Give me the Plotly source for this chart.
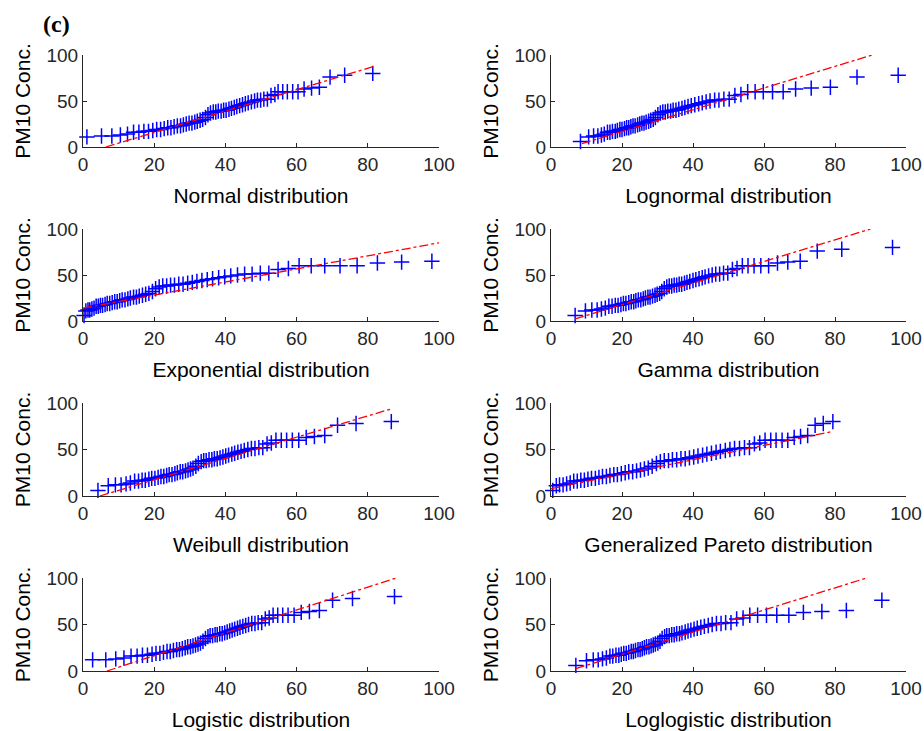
import plotly.graph_objects as go

# Sorted PM10 concentrations (sample quantiles, shared by every panel)
pm10 = [6, 11, 12, 12, 13, 14, 16, 16, 17, 17,
        18, 19, 19, 20, 21, 21, 22, 23, 23, 24,
        25, 26, 26, 27, 28, 29, 30, 32, 35, 37,
        38, 38, 39, 39, 40, 40, 41, 42, 43, 44,
        45, 46, 47, 48, 49, 50, 51, 51, 52, 52,
        56, 57, 60, 60, 60, 60, 60, 63, 64, 65,
        76, 78, 80]

# Theoretical quantiles of each fitted distribution (None = outside the 0-100 axis)
normal_q = [None, 1.1, 5.2, 8.1, 10.5, 12.5, 14.2, 15.7, 17.1, 18.4,
            19.6, 20.7, 21.8, 22.8, 23.8, 24.7, 25.6, 26.5, 27.4, 28.2,
            29.0, 29.8, 30.6, 31.4, 32.1, 32.9, 33.6, 34.4, 35.1, 35.8,
            36.6, 37.3, 38.0, 38.8, 39.5, 40.2, 41.0, 41.7, 42.5, 43.2,
            44.0, 44.8, 45.6, 46.4, 47.3, 48.2, 49.0, 49.9, 50.8, 51.8,
            52.8, 53.9, 54.8, 56.1, 57.4, 58.9, 60.4, 62.1, 64.2, 66.4,
            69.4, 73.5, 81.4]
lognormal_q = [8.3, 10.6, 12.0, 13.2, 14.2, 15.0, 15.9, 16.6, 17.3, 18.1,
               18.7, 19.4, 20.0, 20.7, 21.3, 21.9, 22.5, 23.1, 23.7, 24.4,
               25.0, 25.6, 26.2, 26.8, 27.5, 28.1, 28.8, 29.4, 30.1, 30.8,
               31.5, 32.2, 32.9, 33.7, 34.4, 35.2, 36.0, 36.9, 37.7, 38.6,
               39.5, 40.5, 41.6, 42.6, 43.7, 44.8, 46.1, 47.3, 48.7, 50.2,
               51.8, 53.5, 55.4, 57.5, 59.8, 62.4, 65.4, 68.9, 73.3, 78.7,
               86.2, 97.8, None]
exponential_q = [0.3, 0.8, 1.4, 1.9, 2.5, 3.1, 3.7, 4.3, 4.9, 5.5,
                 6.2, 6.8, 7.5, 8.2, 8.9, 9.6, 10.3, 11.0, 11.8, 12.6,
                 13.3, 14.2, 15.0, 15.8, 16.7, 17.6, 18.5, 19.5, 20.4, 21.4,
                 22.4, 23.5, 24.6, 25.7, 26.9, 28.1, 29.4, 30.7, 32.0, 33.4,
                 34.9, 36.4, 38.1, 39.8, 41.5, 43.4, 45.4, 47.5, 49.8, 52.2,
                 54.8, 57.7, 60.7, 64.1, 67.9, 72.2, 77.0, 82.7, 89.5, 98.0,
                 None, None, None]
gamma_q = [6.8, 9.7, 11.5, 13.0, 14.2, 15.3, 16.3, 17.2, 18.1, 18.9,
           19.7, 20.4, 21.1, 21.9, 22.6, 23.3, 23.9, 24.6, 25.3, 26.0,
           26.6, 27.3, 27.9, 28.6, 29.3, 29.9, 30.6, 31.2, 31.9, 32.6,
           33.3, 34.0, 34.7, 35.4, 36.1, 36.8, 37.6, 38.3, 39.1, 40.0,
           40.8, 41.7, 42.6, 43.4, 44.4, 45.4, 46.4, 47.5, 48.6, 49.8,
           51.1, 52.4, 53.9, 55.5, 57.2, 59.1, 61.3, 63.8, 66.7, 70.2,
           75.0, 81.9, 96.2]
weibull_q = [4.2, 7.1, 9.1, 10.7, 12.1, 13.3, 14.5, 15.6, 16.6, 17.5,
             18.5, 19.3, 20.2, 21.1, 21.9, 22.7, 23.5, 24.2, 25.0, 25.8,
             26.5, 27.3, 28.0, 28.8, 29.5, 30.2, 30.9, 31.7, 32.4, 33.2,
             33.9, 34.6, 35.4, 36.2, 36.9, 37.7, 38.5, 39.3, 40.1, 40.9,
             41.8, 42.6, 43.5, 44.4, 45.3, 46.3, 47.3, 48.3, 49.4, 50.5,
             51.7, 52.9, 54.2, 55.7, 57.2, 58.8, 60.6, 62.7, 65.0, 67.9,
             71.5, 76.7, 86.6]
gpareto_q = [0.5, 1.5, 2.4, 3.4, 4.4, 5.4, 6.4, 7.4, 8.4, 9.4,
             10.4, 11.4, 12.5, 13.5, 14.5, 15.6, 16.6, 17.7, 18.7, 19.8,
             20.9, 21.9, 23.0, 24.1, 25.2, 26.3, 27.4, 28.5, 29.7, 30.8,
             31.9, 33.1, 34.2, 35.4, 36.6, 37.8, 39.0, 40.2, 41.4, 42.7,
             43.9, 45.2, 46.5, 47.7, 49.1, 50.4, 51.7, 53.1, 54.5, 55.9,
             57.3, 58.8, 60.3, 61.9, 63.4, 65.1, 66.7, 68.5, 70.3, 72.3,
             74.4, 76.7, 79.4]
logistic_q = [None, None, 2.7, 6.4, 9.2, 11.5, 13.5, 15.2, 16.7, 18.1,
              19.4, 20.5, 21.6, 22.6, 23.6, 24.5, 25.4, 26.3, 27.1, 27.9,
              28.7, 29.4, 30.2, 30.9, 31.6, 32.3, 33.0, 33.7, 34.4, 35.1,
              35.7, 36.4, 37.1, 37.7, 38.4, 39.1, 39.8, 40.5, 41.2, 41.9,
              42.6, 43.4, 44.1, 44.9, 45.7, 46.5, 47.4, 48.3, 49.2, 50.2,
              51.2, 52.3, 53.4, 54.7, 56.1, 57.6, 59.3, 61.3, 63.6, 66.4,
              70.1, 75.7, 87.5]
loglogistic_q = [7.0, 10.0, 11.9, 13.3, 14.5, 15.6, 16.6, 17.4, 18.3, 19.1,
                 19.8, 20.5, 21.2, 21.9, 22.6, 23.2, 23.8, 24.5, 25.1, 25.7,
                 26.3, 26.9, 27.6, 28.2, 28.8, 29.4, 30.1, 30.7, 31.3, 32.0,
                 32.6, 33.3, 34.0, 34.7, 35.4, 36.2, 36.9, 37.8, 38.6, 39.4,
                 40.3, 41.2, 42.2, 43.2, 44.3, 45.4, 46.6, 47.9, 49.2, 50.7,
                 52.3, 54.1, 56.0, 58.2, 60.7, 63.6, 67.0, 71.1, 76.3, 83.2,
                 93.2, None, None]

# Reference-line end points (x pair, y pair) for each fit
normal_line = ([6.4, 81.5], [0, 87.3])
lognormal_line = ([8.7, 90.5], [3.6, 100])
exponential_line = ([0, 100], [14, 85])
gamma_line = ([6.8, 90], [2.2, 100])
weibull_line = ([4.7, 86.9], [0, 94])
gpareto_line = ([0, 79.5], [8, 69.5])
logistic_line = ([6.7, 88], [0, 100])
loglogistic_line = ([7, 88.9], [2.5, 100])

panel_titles = ["Normal distribution", "Lognormal distribution",
                "Exponential distribution", "Gamma distribution",
                "Weibull distribution", "Generalized Pareto distribution",
                "Logistic distribution", "Loglogistic distribution"]
panel_quantiles = [normal_q, lognormal_q, exponential_q, gamma_q,
                   weibull_q, gpareto_q, logistic_q, loglogistic_q]
panel_lines = [normal_line, lognormal_line, exponential_line, gamma_line,
               weibull_line, gpareto_line, logistic_line, loglogistic_line]

x_ticks = [0, 20, 40, 60, 80, 100]
y_ticks = [0, 50, 100]
y_label = "PM10 Conc."

W, H = 924, 731
col_px = [(83, 439), (551, 906)]
row_px = [(55, 147), (229, 321), (403, 496), (578, 671)]

AX = "#262626"
FONT = "Liberation Sans, Arial, Helvetica, sans-serif"

fig = go.Figure()
layout = {}
for k, title in enumerate(panel_titles):
    n = k + 1
    r, c = divmod(k, 2)
    xa = "x" if n == 1 else f"x{n}"
    ya = "y" if n == 1 else f"y{n}"
    lx, ly = panel_lines[k]
    fig.add_trace(go.Scatter(
        x=panel_quantiles[k], y=pm10, mode="markers", xaxis=xa, yaxis=ya,
        marker=dict(symbol="cross-thin", size=11,
                    line=dict(color="#0000ff", width=1.5)),
        cliponaxis=False, showlegend=False, hoverinfo="x+y"))
    fig.add_trace(go.Scatter(
        x=lx, y=ly, mode="lines", xaxis=xa, yaxis=ya,
        line=dict(color="#ff0000", dash="dashdot", width=1.3),
        showlegend=False, hoverinfo="skip"))

    x0, x1 = col_px[c]
    top, bot = row_px[r]
    xkey = "xaxis" if n == 1 else f"xaxis{n}"
    ykey = "yaxis" if n == 1 else f"yaxis{n}"
    layout[xkey] = dict(
        domain=[x0 / W, x1 / W], anchor=ya, range=[0, 100], automargin=False,
        tickmode="array", tickvals=x_ticks, ticks="inside", ticklen=4,
        tickcolor=AX, tickwidth=1, showline=True, linecolor=AX, linewidth=1,
        showgrid=False, zeroline=False,
        tickfont=dict(family=FONT, size=19, color=AX),
        title=dict(text=title, standoff=14,
                   font=dict(family=FONT, size=21, color="#000000")))
    layout[ykey] = dict(
        domain=[1 - bot / H, 1 - top / H], anchor=xa, range=[0, 100],
        automargin=False,
        tickmode="array", tickvals=y_ticks, ticks="inside", ticklen=4,
        tickcolor=AX, tickwidth=1, showline=True, linecolor=AX, linewidth=1,
        showgrid=False, zeroline=False,
        tickfont=dict(family=FONT, size=19, color=AX),
        title=dict(text=y_label, standoff=10,
                   font=dict(family=FONT, size=21, color="#000000")))

fig.update_layout(
    width=W, height=H, margin=dict(l=0, r=0, t=0, b=0, autoexpand=False),
    paper_bgcolor="white", plot_bgcolor="white",
    annotations=[dict(text="<b>(c)</b>", x=41 / W, y=1 - 24 / H,
                      xref="paper", yref="paper", xanchor="left",
                      yanchor="middle", showarrow=False,
                      font=dict(family="Liberation Serif, Times New Roman, serif",
                                size=24, color="#000000"))],
    **layout)

fig.write_html("out.html")
